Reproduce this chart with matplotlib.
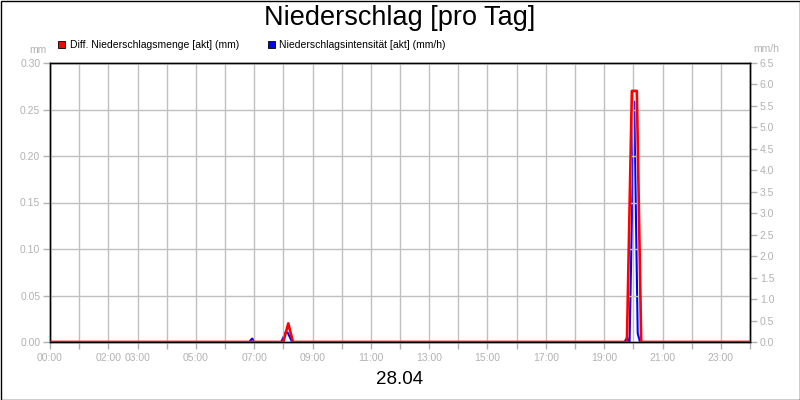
import matplotlib
matplotlib.use("Agg")
import matplotlib.pyplot as plt
from matplotlib.patches import Rectangle
import numpy as np

plt.rcParams['font.family'] = ['Liberation Sans', 'DejaVu Sans']

# ---- data ----
red_hours = [0, 8.00, 8.17, 8.33, 19.78, 19.95, 20.12, 20.27, 24]
red_vals = [0, 0, 0.02, 0, 0, 0.27, 0.27, 0, 0]

blue_hours = [0, 6.83, 6.93, 7.03, 7.93, 8.07, 8.15, 8.30,
              19.70, 19.78, 19.87, 20.03, 20.15, 20.23, 24]
blue_vals = [0, 0, 0.08, 0, 0, 0.22, 0.22, 0,
             0, 0.1, 0, 5.6, 0.2, 0, 0]

x_label_hours = [0, 2, 3, 5, 7, 9, 11, 13, 15, 17, 19, 21, 23]
left_ticks = [0.00, 0.05, 0.10, 0.15, 0.20, 0.25, 0.30]
right_ticks = [0.0, 0.5, 1.0, 1.5, 2.0, 2.5, 3.0, 3.5, 4.0, 4.5, 5.0, 5.5, 6.0, 6.5]

title = "Niederschlag [pro Tag]"
date_label = "28.04"
legend_labels = ["Diff. Niederschlagsmenge [akt] (mm)", "Niederschlagsintensität [akt] (mm/h)"]
gray = '#b2b2b2'

fig = plt.figure(figsize=(8, 4), dpi=100)
fig.patch.set_facecolor('white')
ax = fig.add_axes([50/800, 58/400, 700/800, 279/400])
ax2 = ax.twinx()

ax2.plot(blue_hours, blue_vals, color='#0000ff', lw=1.5, zorder=2)
ax.plot(red_hours, red_vals, color='#ff0000', lw=1.9, zorder=3)
ax.set_zorder(ax2.get_zorder() + 1)
ax.patch.set_visible(False)

ax.set_xlim(0, 24)
ax.set_ylim(0, 0.30)
ax2.set_ylim(0, 6.5)

hours = list(range(0, 25))
ax.set_xticks(hours)
ax.set_xticklabels([f"{h:02d}:00" if h in x_label_hours else "" for h in hours])
ax.set_yticks(left_ticks)
ax.set_yticklabels([f"{v:.2f}" for v in left_ticks])
ax2.set_yticks(right_ticks)
ax2.set_yticklabels([f"{v:.1f}" for v in right_ticks])

ax.grid(True, color='#c0c0c0', lw=1)
ax.set_axisbelow(True)
for a in (ax, ax2):
    a.tick_params(colors=gray, labelsize=7.5, length=5, width=1, direction='out', pad=2)
    for s in a.spines.values():
        s.set_color('black')
        s.set_linewidth(1)
ax.tick_params(axis='x', pad=3)

fig.text(0.5, 1 - 18/400, title, ha='center', va='center', fontsize=19.5, color='black')
fig.text(0.5, 1 - 379/400, date_label, ha='center', va='center', fontsize=13.5, color='black')
fig.text(47/800, 1 - 50/400, "mm", ha='right', va='center', fontsize=7.5, color=gray)
fig.text(753/800, 1 - 49/400, "mm/h", ha='left', va='center', fontsize=7.5, color=gray)

# legend
for xs, xt, col, lab in [(58, 70, '#ff0000', legend_labels[0]), (268, 279, '#0000ff', legend_labels[1])]:
    fig.patches.append(Rectangle((xs/800, 1 - 48/400), 7/800, 7/400, transform=fig.transFigure,
                                 facecolor=col, edgecolor='black', lw=0.6))
    fig.text(xt/800, 1 - 44.5/400, lab, ha='left', va='center', fontsize=7.5, color='black')

fig.patches.append(Rectangle((0.5/800, 0.5/400), 799/800, 399/400, transform=fig.transFigure,
                             facecolor='none', edgecolor='black', lw=1))

fig.savefig('out.png', dpi=100, facecolor='white')
